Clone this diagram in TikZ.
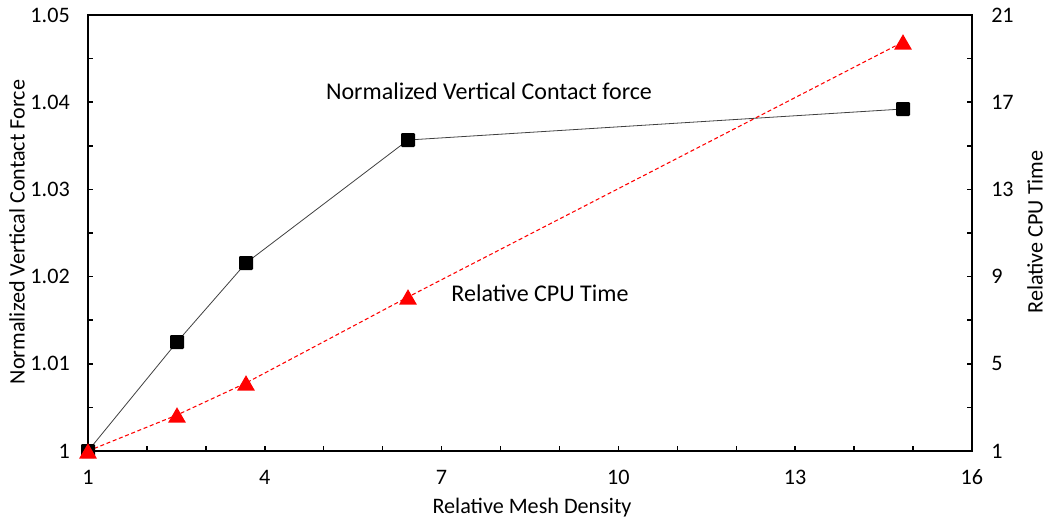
\documentclass[tikz,border=0pt]{standalone}
\usepackage{fontspec}
\setmainfont{Carlito}
\usetikzlibrary{shapes.geometric}
\begin{document}
\begin{tikzpicture}[x=0.75pt,y=-0.75pt,
  axisline/.style={line width=1.5pt,line cap=rect},
  tickline/.style={line width=1.1pt},
  lbl/.style={font=\fontsize{16.6}{19}\selectfont,inner sep=0pt},
  ann/.style={font=\fontsize{18}{21}\selectfont,inner sep=0pt},
  sq/.style={rectangle,fill=black,minimum size=10.5pt,inner sep=0pt,rounded corners=0.8pt},
  tri/.style={regular polygon,regular polygon sides=3,fill=red,minimum size=15.5pt,inner sep=0pt},
  fline/.style={draw=black!75,line width=0.6pt},
  cline/.style={draw=red,line width=0.8pt,dash pattern=on 3pt off 2pt}]
\useasboundingbox (0,0) rectangle (1047,525);
% axes frame
\draw[axisline] (88,15) -- (88,451) -- (972,451) -- (972,15) -- cycle;
% x ticks
\foreach \i in {1,...,15}{\draw[tickline] ({88+\i*58.93},451) -- ({88+\i*58.93},446);}
% left y ticks (every 0.005)
\foreach \j in {1,...,9}{\draw[tickline] (88,{451-\j*43.6}) -- (93,{451-\j*43.6});}
% right y ticks (every 2)
\foreach \j in {1,...,9}{\draw[tickline] (972,{451-\j*43.6}) -- (967,{451-\j*43.6});}
% x tick labels
\foreach \v in {1,4,7,10,13,16}{\node[lbl] (xl\v) at ({88+(\v-1)*58.93},477) {\v};}
% left tick labels
\foreach \t/\k in {1/0,1.01/1,1.02/2,1.03/3,1.04/4,1.05/5}{\node[lbl,anchor=east] (yl\k) at (70,{451-\k*87.2}) {\t};}
% right tick labels
\foreach \t/\k in {1/0,5/1,9/2,13/3,17/4,21/5}{\node[lbl,anchor=west] (yr\k) at (991,{451-\k*87.2}) {\t};}
% axis titles
\node[lbl] (xt) at (532,508) {Relative Mesh Density};
\node[lbl,rotate=90] (ylt) at (17,232) {Normalized Vertical Contact Force};
\node[lbl,rotate=90] (yrt) at (1035,232) {Relative CPU Time};
% data: contact force
\coordinate (f1) at (88,451);
\coordinate (f2) at (177,342);
\coordinate (f3) at (246,263);
\coordinate (f4) at (408,140);
\coordinate (f5) at (903,109);
\draw[fline] (f1) -- (f2) -- (f3) -- (f4) -- (f5);
% data: CPU time
\coordinate (c1) at (88,451);
\coordinate (c2) at (177,415);
\coordinate (c3) at (246,383);
\coordinate (c4) at (408,297);
\coordinate (c5) at (903,42);
\draw[cline] (c1) -- (c2) -- (c3) -- (c4) -- (c5);
\foreach \p in {1,...,5}{\node[sq] (sf\p) at (f\p) {};}
\foreach \p in {1,...,5}{\node[tri] (tc\p) at ([yshift=-1.9pt]c\p) {};}
% annotations
\node[ann] (na) at (489,91) {Normalized Vertical Contact force};
\node[ann] (nb) at (540,293) {Relative CPU Time};
\end{tikzpicture}
\end{document}
